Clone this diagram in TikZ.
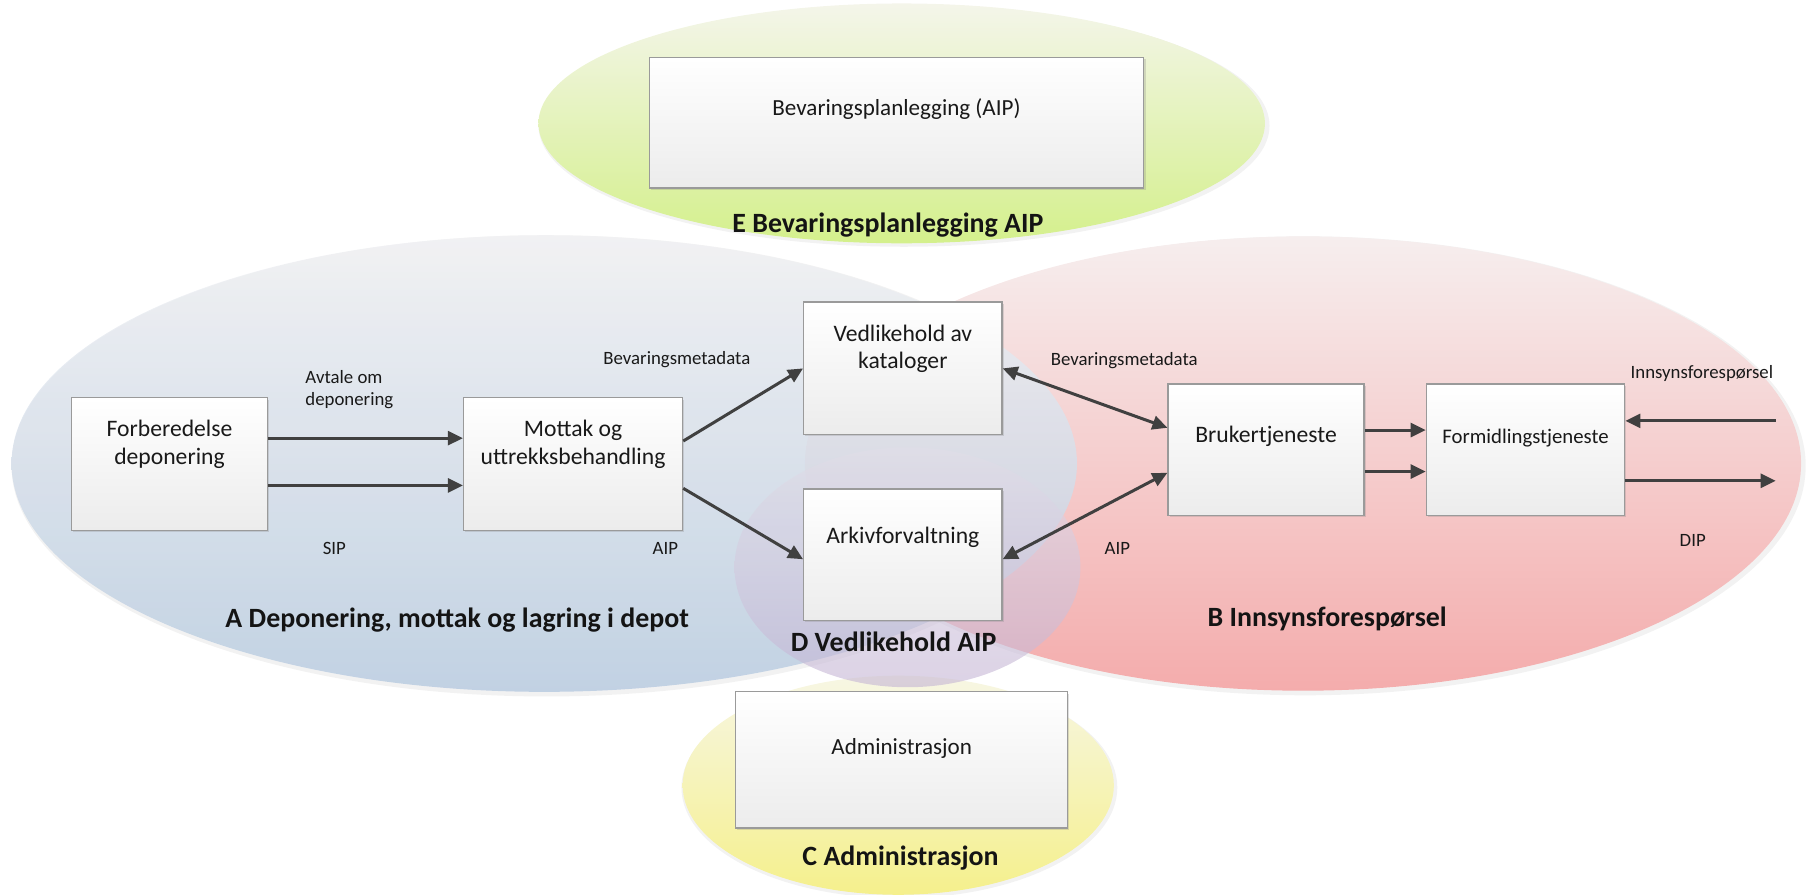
\documentclass[tikz,border=0pt]{standalone}
\usepackage{fontspec}
\setmainfont{Carlito}
\usetikzlibrary{arrows.meta,shadows}
\definecolor{arrowc}{HTML}{404040}
\definecolor{boxborder}{HTML}{9A9A9A}
\definecolor{boxbot}{HTML}{ECECEC}
\begin{document}
\begin{tikzpicture}[x=1pt,y=-1pt,
  stagebox/.style={draw=boxborder, line width=1.1pt, top color=white, bottom color=boxbot,
    minimum width=170pt, minimum height=115pt, inner sep=0pt,
    drop shadow={shadow xshift=1.5pt, shadow yshift=-1.5pt, opacity=0.25}},
  boxtext/.style={font=\fontsize{20.5}{24}\selectfont, align=center, text=black!90},
  small/.style={font=\fontsize{16.3}{19}\selectfont, align=left, text=black!90},
  big/.style={font=\bfseries\fontsize{24.2}{28}\selectfont, text=black!92},
  flow/.style={draw=arrowc, line width=2.6pt, -{Triangle[length=13pt,width=12pt]}},
  flow2/.style={draw=arrowc, line width=2.6pt, {Triangle[length=13pt,width=12pt]}-{Triangle[length=13pt,width=12pt]}},
  zshadow/.style={fill=black, opacity=0.05}
]
\useasboundingbox (0,0) rectangle (1568,776);

% zone shadows
\fill[zshadow] (780,683) ellipse [x radius=189, y radius=96];
\fill[zshadow] (1132,404) ellipse [x radius=434, y radius=199];
\fill[zshadow] (474,404) ellipse [x radius=464, y radius=200];
\fill[zshadow] (784,109) ellipse [x radius=317, y radius=105];

% zones
\shade[top color={rgb,255:red,247;green,246;blue,228}, bottom color={rgb,255:red,245;green,240;blue,140}]
  (779,681) ellipse [x radius=187, y radius=95];
\shade[top color={rgb,255:red,246;green,238;blue,238}, bottom color={rgb,255:red,244;green,172;blue,172}]
  (1130,402) ellipse [x radius=432, y radius=197];
\shade[top color={rgb,255:red,242;green,242;blue,244}, bottom color={rgb,255:red,185;green,204;blue,225}, fill opacity=0.85]
  (472,402) ellipse [x radius=462, y radius=198];
\shade[top color={rgb,255:red,225;green,222;blue,232}, bottom color={rgb,255:red,196;green,180;blue,212}, fill opacity=0.6]
  (787,492) ellipse [x radius=150, y radius=104];
\shade[top color={rgb,255:red,244;green,245;blue,234}, bottom color={rgb,255:red,212;green,240;blue,140}]
  (782,107) ellipse [x radius=315, y radius=104];

% boxes
\node[stagebox, minimum width=429pt, minimum height=113pt, label={[boxtext, yshift=12pt, font=\fontsize{20}{24}\selectfont]center:Bevaringsplanlegging (AIP)}] (ebox) at (777.5,106.5) {};
\node[stagebox, minimum width=288pt, minimum height=118pt, label={[boxtext, yshift=10pt, font=\fontsize{20}{24}\selectfont]center:Administrasjon}] (cbox) at (782,659) {};
\node[stagebox, label={[boxtext, yshift=17pt]center:Forberedelse\\deponering}] (fb) at (147,402.5) {};
\node[stagebox, minimum width=190pt, label={[boxtext, yshift=17pt]center:Mottak og\\uttrekksbehandling}] (mt) at (497,402.5) {};
\node[stagebox, minimum width=172pt, label={[boxtext, yshift=17pt]center:Vedlikehold av\\kataloger}] (vk) at (783,319.5) {};
\node[stagebox, minimum width=172pt, minimum height=114pt, label={[boxtext, yshift=15pt]center:Arkivforvaltning}] (ak) at (783,481) {};
\node[stagebox, minimum height=114pt, label={[boxtext, yshift=12pt]center:Brukertjeneste}] (bt) at (1098,390) {};
\node[stagebox, minimum width=172pt, minimum height=114pt, label={[boxtext, yshift=10pt, font=\fontsize{18}{21}\selectfont]center:Formidlingstjeneste}] (fm) at (1323,390) {};

% zone labels
\node[big] (la) at (396.5,538) {A Deponering, mottak og lagring i depot};
\node[big] (lb) at (1151,537) {B Innsynsforespørsel};
\node[big] (lc) at (781,744) {C Administrasjon};
\node[big] (ld) at (775,557) {D Vedlikehold AIP};
\node[big] (le) at (770,195) {E Bevaringsplanlegging AIP};

% small labels
\node[small] (l1) at (303,338) {Avtale om\\deponering};
\node[small] (l2) at (290,476) {SIP};
\node[small] (l3) at (577,476) {AIP};
\node[small] (l4) at (587,312) {Bevaringsmetadata};
\node[small] (l5) at (975,313) {Bevaringsmetadata};
\node[small] (l6) at (969,476) {AIP};
\node[small] (l7) at (1476,324) {Innsynsforespørsel};
\node[small] (l8) at (1468,469) {DIP};

% external endpoints
\coordinate (inq) at (1540,365);
\coordinate (outd) at (1540,417);

% connectors
\draw[flow] ([yshift=22.5pt]fb.east) -- ([yshift=22.5pt]mt.west);
\draw[flow] ([yshift=-18.5pt]fb.east) -- ([yshift=-18.5pt]mt.west);
\draw[flow] ([yshift=20pt]mt.east) -- (vk.west);
\draw[flow] ([yshift=-21pt]mt.east) -- ([yshift=-4pt]ak.west);
\draw[flow2] (vk.east) -- ([yshift=19pt]bt.west);
\draw[flow2] ([yshift=-4pt]ak.east) -- ([yshift=-20pt]bt.west);
\draw[flow] ([yshift=17pt]bt.east) -- ([yshift=17pt]fm.west);
\draw[flow] ([yshift=-19pt]bt.east) -- ([yshift=-19pt]fm.west);
\draw[flow] (inq) -- ([yshift=25pt]fm.east);
\draw[flow] ([yshift=-27pt]fm.east) -- (outd);
\end{tikzpicture}
\end{document}
